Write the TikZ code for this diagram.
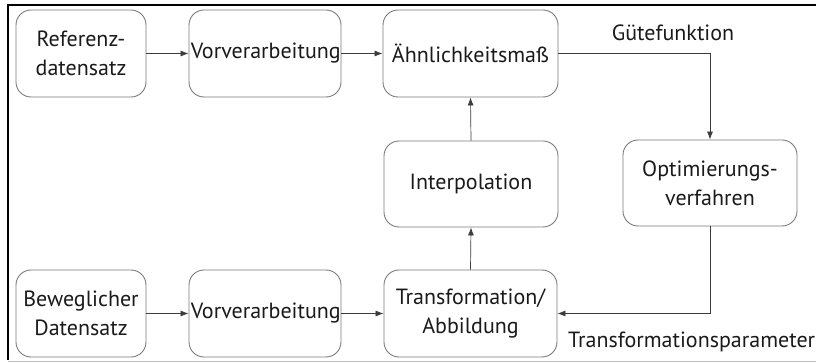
\documentclass[tikz,border=0pt]{standalone}
\usepackage{fontspec}
\setmainfont{PT Sans}
\usetikzlibrary{arrows.meta}
\definecolor{boxgray}{HTML}{7A7A7A}
\definecolor{txt}{HTML}{1A1A1A}
\tikzset{
  blk/.style={draw=boxgray, line width=0.9pt, rounded corners=15pt, align=center,
    text=txt, font=\fontsize{22}{29}\selectfont, inner sep=0pt},
  conn/.style={draw=txt!85, line width=0.7pt, -{Latex[length=8pt,width=6pt]}},
  lbl/.style={text=txt, font=\fontsize{22}{29}\selectfont, inner sep=0pt}
}
\begin{document}
\begin{tikzpicture}[x=1pt,y=-1pt]
\useasboundingbox (0,0) rectangle (816,363);
% frame
\draw[line width=2pt, black] (8,360) -- (8,5) -- (816,5);
\draw[line width=0.8pt, black!25] (8,361) -- (816,361);
% boxes
\node[blk, minimum width=130pt, minimum height=87pt] (ref) at (81,53.5) {Referenz-\\datensatz};
\node[blk, minimum width=152pt, minimum height=87pt] (vv1) at (265,53.5) {};
\node[lbl, anchor=west] (vv1t) at ([xshift=2pt]vv1.west) {Vorverarbeitung};
\node[blk, minimum width=175pt, minimum height=87pt] (aehn) at (470.5,53.5) {};
\node[lbl] (aehnt) at (aehn.center) {Ähnlichkeitsmaß};
\node[blk, minimum width=174pt, minimum height=86pt] (opt) at (710,183) {Optimierungs-\\verfahren};
\node[blk, minimum width=174pt, minimum height=86pt] (interp) at (471,184) {Interpolation};
\node[blk, minimum width=173pt, minimum height=87pt] (trans) at (470.5,313.5) {Transformation/\\Abbildung};
\node[blk, minimum width=130pt, minimum height=87pt] (bew) at (81,313.5) {Beweglicher\\Datensatz};
\node[blk, minimum width=152pt, minimum height=87pt] (vv2) at (265,313.5) {};
\node[lbl, anchor=west] (vv2t) at ([xshift=2pt]vv2.west) {Vorverarbeitung};
% labels
\node[lbl] (guete) at (673,33) {Gütefunktion};
\node[lbl, anchor=west] (tparam) at (568,342) {Transformationsparameter};
% connectors
\draw[conn] (ref.east) -- (vv1.west);
\draw[conn] (vv1.east) -- (aehn.west);
\draw[conn] (aehn.east) -| (opt.north);
\draw[conn] (opt.south) |- (trans.east);
\draw[conn] (interp.north) -- (aehn.south);
\draw[conn] (trans.north) -- (interp.south);
\draw[conn] (bew.east) -- (vv2.west);
\draw[conn] (vv2.east) -- (trans.west);
\end{tikzpicture}
\end{document}
